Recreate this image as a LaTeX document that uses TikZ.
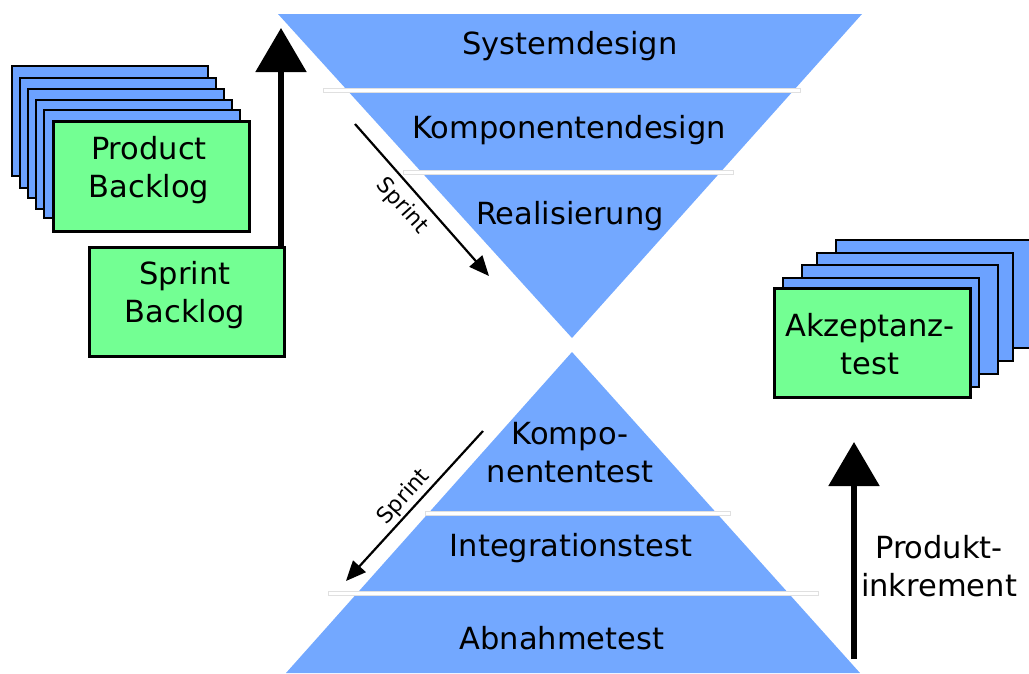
\documentclass[tikz,border=0pt]{standalone}
\usepackage{fontspec}
\setmainfont{DejaVu Sans}
\usetikzlibrary{arrows.meta}
\definecolor{phaseblue}{RGB}{115,168,255}
\definecolor{cardblue}{RGB}{108,162,255}
\definecolor{cardgreen}{RGB}{115,255,147}
\tikzset{
  phase/.style={fill=phaseblue, draw=none},
  separator/.style={fill=white, draw=black!12, line width=0.8pt},
  backcard/.style={fill=cardblue, draw=black, line width=2.5pt},
  card/.style={fill=cardgreen, draw=black, line width=2.5pt, anchor=north west,
    minimum width=196pt, minimum height=110pt, inner sep=0pt},
  label/.style={align=center, inner sep=0pt, font=\fontsize{30.5}{38}\selectfont},
  small/.style={inner sep=0pt, font=\fontsize{22}{26}\selectfont},
  sprintarrow/.style={line width=2.2pt, -{Triangle[length=20pt,width=17pt]}},
  bigarrow/.style={line width=5.5pt, -{Triangle[length=44pt,width=50pt]}},
}
\begin{document}
\begin{tikzpicture}[x=1pt,y=-1pt]
\useasboundingbox (0,0) rectangle (1029,673);

% design funnel (top) and test pyramid (bottom)
\fill[phase] (278,14) -- (862,14) -- (572,338) -- cycle;
\fill[phase] (572,352) -- (860,673) -- (286,673) -- cycle;

% level separators
\draw[separator] (323,88.5) rectangle (800,92.5);
\draw[separator] (403,170) rectangle (733,174);
\draw[separator] (425,511) rectangle (730,515);
\draw[separator] (328,591) rectangle (818,595);

% level labels
\node[label] (sysd) at (570,46) {Systemdesign};
\node[label] (kompd) at (569,130) {Komponentendesign};
\node[label] (real) at (570,216) {Realisierung};
\node[label] (kompt) at (570,453) {Kompo-\\nententest};
\node[label] (integ) at (571,548) {Integrationstest};
\node[label] (abn) at (562,638) {Abnahmetest};

% product backlog stack
\draw[backcard] (12,66) rectangle (208,176);
\draw[backcard] (20,78) rectangle (216,188);
\draw[backcard] (28,89) rectangle (224,198);
\draw[backcard] (36,100) rectangle (232,209);
\draw[backcard] (44,110) rectangle (240,218);
\node[card] (pb) at (52,120) {};
\node[label] (pbt) at (149,170) {Product\\Backlog};

% sprint backlog
\node[card, minimum width=195pt, minimum height=109pt] (sb) at (88,246) {};
\node[label] (sbt) at (185,295) {Sprint\\Backlog};

% acceptance test stack
\draw[backcard] (836,240) rectangle (1034,348);
\draw[backcard] (817,253) rectangle (1013,361);
\draw[backcard] (802,265) rectangle (998,374);
\draw[backcard] (783,278) rectangle (979,387);
\node[card, minimum width=196pt, minimum height=109pt] (at) at (773,287) {};
\node[label] (att) at (870,344) {Akzeptanz-\\test};

% arrows
\coordinate (sbtop) at (281,28);
\draw[bigarrow] (sb.north east -| sbtop) -- (sbtop);

\coordinate (pifrom) at (854,659);
\coordinate (pito) at (854,442);
\draw[bigarrow] (pifrom) -- (pito);
\node[label] (pinc) at (939,566) {Produkt-\\inkrement};

\coordinate (s1a) at (355,124);
\coordinate (s1b) at (489,276);
\draw[sprintarrow] (s1a) -- (s1b);
\node[small, rotate=-48] (s1l) at (402,206) {Sprint};

\coordinate (s2a) at (483,431);
\coordinate (s2b) at (346,581);
\draw[sprintarrow] (s2a) -- (s2b);
\node[small, rotate=48] (s2l) at (404,497) {Sprint};
\end{tikzpicture}
\end{document}
